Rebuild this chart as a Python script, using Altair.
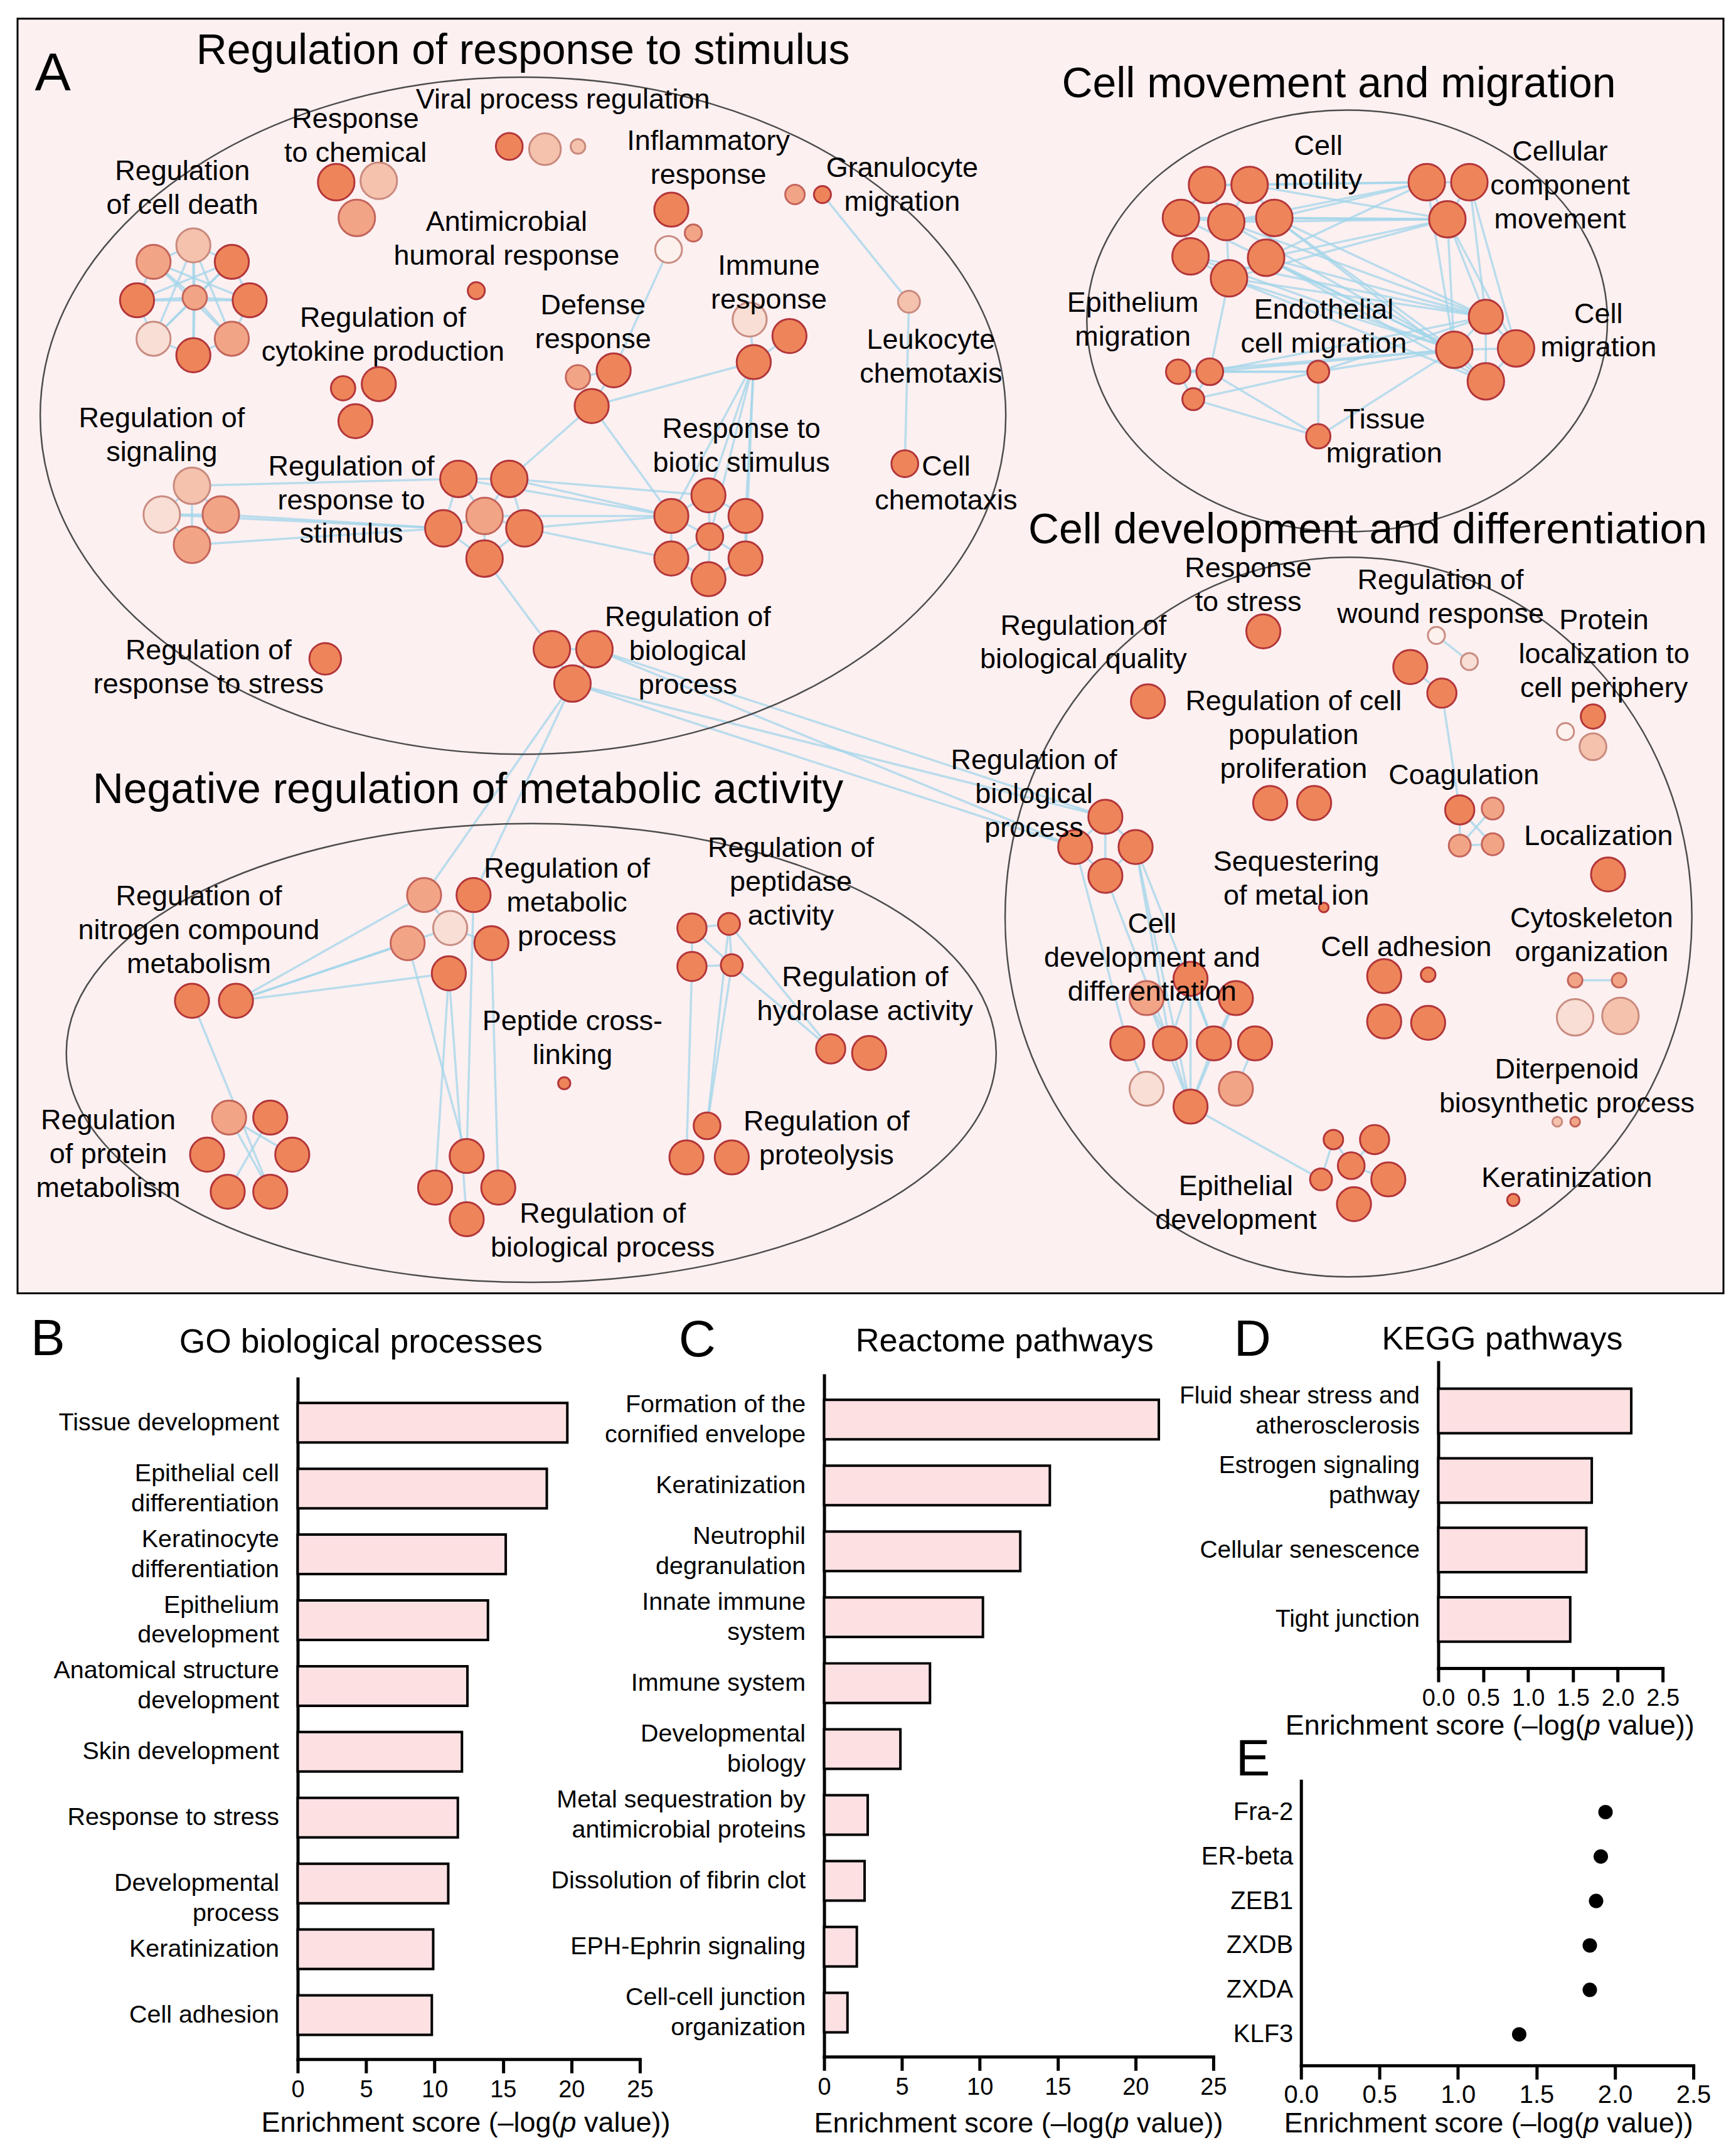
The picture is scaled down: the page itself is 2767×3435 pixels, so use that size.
import math
import pandas as pd
import altair as alt

FONT = "Liberation Sans, Arial, Helvetica, sans-serif"
TITLE_PRE, TITLE_P, TITLE_POST = "Enrichment score (\u2013log(", "p", "value))"

# ---------------- Panels B-E values ----------------
# "|" = line break of a label centred on its bar, "~" = line break of a label whose first line sits on the bar
go_terms = ["Tissue development", "Epithelial cell|differentiation", "Keratinocyte|differentiation",
            "Epithelium|development", "Anatomical structure|development", "Skin development",
            "Response to stress", "Developmental~process", "Keratinization", "Cell adhesion"]
go_scores = [19.7, 18.2, 15.2, 13.9, 12.4, 12.0, 11.7, 11.0, 9.9, 9.8]

reactome_terms = ["Formation of the|cornified envelope", "Keratinization", "Neutrophil|degranulation",
                  "Innate immune|system", "Immune system", "Developmental|biology",
                  "Metal sequestration by|antimicrobial proteins", "Dissolution of fibrin clot",
                  "EPH-Ephrin signaling", "Cell-cell junction|organization"]
reactome_scores = [21.5, 14.5, 12.6, 10.2, 6.8, 4.9, 2.8, 2.6, 2.1, 1.5]

kegg_terms = ["Fluid shear stress and|atherosclerosis", "Estrogen signaling|pathway",
              "Cellular senescence", "Tight junction"]
kegg_scores = [2.15, 1.71, 1.65, 1.47]

tf_names = ["Fra-2", "ER-beta", "ZEB1", "ZXDB", "ZXDA", "KLF3"]
tf_scores = [1.94, 1.91, 1.88, 1.84, 1.84, 1.39]

ticks_25 = [0, 5, 10, 15, 20, 25]
ticks_25b = [0.0, 0.5, 1.0, 1.5, 2.0, 2.5]

# ---------------- Panel A network (layout coordinates) ----------------
shade_fill = {"d": "#ee855a", "m": "#f2a586", "l": "#f5c2ad", "v": "#f8ded4", "w": "#fcf1ec"}
shade_stroke = {"d": "#b3363a", "m": "#c4655c", "l": "#c98a7e", "v": "#c98c82", "w": "#c98c82"}

c1_nodes = [
    ("rc1", 244, 131, 15, "d"), ("rc2", 275, 130, 15, "l"), ("rc3", 259, 157, 15, "m"),
    ("vp1", 370, 105, 11, "d"), ("vp2", 396, 107, 13, "l"), ("vp3", 420, 105, 6, "l"),
    ("gr1", 578, 140, 8, "m"), ("gr2", 598, 140, 7, "d"),
    ("in1", 488, 151, 14, "d"), ("in2", 504, 168, 7, "m"), ("in3", 486, 180, 11, "w"),
    ("am1", 346, 210, 7, "d"),
    ("cd0", 141, 215, 10, "m"), ("cd1", 111, 189, 14, "m"), ("cd2", 140, 177, 14, "l"),
    ("cd3", 168, 189, 14, "d"), ("cd4", 99, 217, 14, "d"), ("cd5", 181, 217, 14, "d"),
    ("cd6", 111, 245, 14, "v"), ("cd7", 168, 245, 14, "m"), ("cd8", 140, 257, 14, "d"),
    ("cy1", 249, 281, 10, "d"), ("cy2", 275, 278, 14, "d"), ("cy3", 258, 305, 14, "d"),
    ("df1", 420, 273, 10, "m"), ("df2", 446, 268, 14, "d"), ("df3", 430, 294, 14, "d"),
    ("im1", 545, 231, 14, "v"), ("im2", 574, 243, 14, "d"), ("im3", 548, 262, 14, "d"),
    ("sg1", 139, 352, 15, "l"), ("sg2", 117, 373, 15, "v"), ("sg3", 160, 373, 15, "m"), ("sg4", 139, 395, 15, "m"),
    ("rs0", 352, 374, 15, "m"), ("rs1", 333, 347, 15, "d"), ("rs2", 370, 347, 15, "d"),
    ("rs3", 322, 383, 15, "d"), ("rs4", 381, 383, 15, "d"), ("rs5", 352, 405, 15, "d"),
    ("bs0", 516, 389, 11, "d"), ("bs1", 515, 359, 14, "d"), ("bs2", 488, 374, 14, "d"),
    ("bs3", 542, 374, 14, "d"), ("bs4", 488, 405, 14, "d"), ("bs5", 542, 405, 14, "d"), ("bs6", 515, 420, 14, "d"),
    ("st1", 236, 478, 13, "d"),
    ("bp1", 401, 471, 15, "d"), ("bp2", 432, 471, 15, "d"), ("bp3", 416, 496, 15, "d"),
    ("lk1", 661, 218, 9, "l"), ("cc1", 658, 336, 11, "d"),
]
c2_nodes = [
    ("mo1", 878, 133, 15, "d"), ("mo2", 909, 133, 15, "d"), ("mo3", 859, 157, 15, "d"),
    ("mo4", 892, 160, 15, "d"), ("mo5", 927, 157, 15, "d"), ("mo6", 866, 185, 15, "d"),
    ("mo7", 921, 186, 15, "d"), ("mo8", 894, 201, 15, "d"),
    ("cm1", 1038, 131, 15, "d"), ("cm2", 1069, 131, 15, "d"), ("cm3", 1053, 158, 15, "d"),
    ("mg1", 1081, 229, 14, "d"), ("mg2", 1058, 253, 15, "d"), ("mg3", 1103, 252, 15, "d"), ("mg4", 1081, 276, 15, "d"),
    ("ep1", 857, 269, 10, "d"), ("ep2", 880, 269, 11, "d"), ("ep3", 868, 289, 9, "d"),
    ("en1", 959, 269, 9, "d"), ("ts1", 959, 316, 10, "d"),
]
c3_nodes = [
    ("rst", 919, 458, 14, "d"), ("bq1", 835, 509, 14, "d"),
    ("wd1", 1045, 461, 7, "w"), ("wd2", 1069, 480, 7, "v"), ("wd3", 1026, 484, 14, "d"), ("wd4", 1049, 503, 12, "d"),
    ("pl1", 1159, 520, 10, "d"), ("pl2", 1139, 531, 7, "w"), ("pl3", 1159, 542, 11, "l"),
    ("pp1", 924, 583, 14, "d"), ("pp2", 956, 583, 14, "d"),
    ("co1", 1062, 588, 12, "d"), ("co2", 1086, 587, 9, "m"), ("co3", 1062, 614, 9, "m"), ("co4", 1086, 613, 9, "m"),
    ("lo1", 1170, 635, 14, "d"), ("sq1", 963, 659, 4, "d"),
    ("ca1", 1007, 709, 14, "d"), ("ca2", 1039, 708, 6, "d"), ("ca3", 1007, 742, 14, "d"), ("ca4", 1039, 743, 14, "d"),
    ("cs1", 1146, 712, 6, "m"), ("cs2", 1178, 712, 6, "m"), ("cs3", 1146, 739, 15, "v"), ("cs4", 1179, 738, 15, "l"),
    ("dt1", 1133, 815, 4, "l"), ("dt2", 1146, 815, 4, "m"), ("kr1", 1101, 872, 5, "d"),
    ("rb1", 804, 593, 14, "d"), ("rb2", 782, 615, 14, "d"), ("rb3", 826, 615, 14, "d"), ("rb4", 804, 636, 14, "d"),
    ("dv1", 866, 711, 14, "d"), ("dv2", 834, 725, 14, "m"), ("dv3", 899, 725, 14, "d"),
    ("dv4", 820, 758, 14, "d"), ("dv5", 851, 758, 14, "d"), ("dv6", 883, 758, 14, "d"), ("dv7", 913, 758, 14, "d"),
    ("dv8", 834, 791, 14, "v"), ("dv9", 899, 791, 14, "m"), ("dv10", 866, 804, 14, "d"),
    ("ed1", 970, 828, 8, "d"), ("ed2", 1000, 828, 12, "d"), ("ed3", 983, 847, 11, "d"),
    ("ed4", 961, 857, 9, "d"), ("ed5", 1010, 857, 14, "d"), ("ed6", 985, 875, 14, "d"),
]
c4_nodes = [
    ("nc1", 139, 727, 14, "d"), ("nc2", 171, 727, 14, "d"),
    ("mp1", 308, 650, 14, "m"), ("mp2", 344, 650, 14, "d"), ("mp3", 327, 674, 14, "v"),
    ("mp4", 296, 685, 14, "m"), ("mp5", 357, 685, 14, "d"), ("mp6", 326, 707, 14, "d"),
    ("pe1", 503, 674, 12, "d"), ("pe2", 530, 671, 9, "d"), ("pe3", 503, 702, 12, "d"), ("pe4", 532, 701, 9, "d"),
    ("hy1", 604, 762, 12, "d"), ("hy2", 632, 765, 14, "d"), ("pc1", 410, 787, 5, "d"),
    ("pr1", 514, 818, 11, "d"), ("pr2", 499, 841, 14, "d"), ("pr3", 532, 841, 14, "d"),
    ("pm1", 166, 812, 14, "m"), ("pm2", 196, 812, 14, "d"), ("pm3", 150, 839, 14, "d"),
    ("pm4", 212, 839, 14, "d"), ("pm5", 165, 866, 14, "d"), ("pm6", 196, 866, 14, "d"),
    ("bb1", 339, 840, 14, "d"), ("bb2", 316, 863, 14, "d"), ("bb3", 362, 863, 14, "d"), ("bb4", 339, 886, 14, "d"),
]

edges_c1 = """cd0-cd1 cd0-cd2 cd0-cd3 cd0-cd4 cd0-cd5 cd0-cd6 cd0-cd7 cd0-cd8
cd1-cd2 cd2-cd3 cd3-cd5 cd5-cd7 cd7-cd8 cd8-cd6 cd6-cd4 cd4-cd1
cd1-cd5 cd2-cd7 cd4-cd3 cd6-cd3 cd2-cd6 cd1-cd7 cd4-cd5 cd2-cd8
sg1-sg2 sg1-sg3 sg2-sg4 sg3-sg4 sg1-sg4 sg2-sg3 sg1-rs1 sg3-rs3 sg4-rs3 sg2-rs3
rs0-rs1 rs0-rs2 rs0-rs3 rs0-rs4 rs0-rs5 rs1-rs2 rs1-rs3 rs2-rs4 rs3-rs5 rs4-rs5
rs2-bs2 rs4-bs2 rs2-bs1 rs4-bs4 rs1-bs2 rs0-bs2
bs0-bs1 bs0-bs2 bs0-bs3 bs0-bs4 bs0-bs5 bs0-bs6 bs1-bs2 bs1-bs3 bs2-bs4 bs3-bs5 bs4-bs6 bs5-bs6
im3-bs1 im3-bs2 im3-bs3 im3-bs0 im3-bs5 im1-im3 im2-im3
df3-im3 df3-bs2 rs2-df3 in3-df2 df1-df2 df2-df3
rs5-bp1 bp1-bp2 bp1-bp3 bp2-bp3 gr2-lk1 lk1-cc1"""
edges_c2 = """mo1-mo2 mo1-mo3 mo2-mo5 mo3-mo4 mo4-mo5 mo3-mo6 mo5-mo7 mo6-mo8 mo7-mo8 mo4-mo8 mo1-mo4 mo2-mo4
mo2-cm1 mo5-cm1 mo5-cm3 mo4-cm3 mo7-cm3 mo2-cm3 mo4-cm1 mo7-cm1 mo8-cm3 mo3-cm3 mo1-cm1
mo5-mg2 mo7-mg2 mo8-mg2 mo4-mg2 mo7-mg1 mo8-mg4 mo6-mg2 mo5-mg1 mo6-mg1 mo3-mg2 mo7-mg4 mo5-mg4 mo4-mg1 mo8-mg1
cm1-cm2 cm1-cm3 cm2-cm3 cm3-mg1 cm3-mg2 cm2-mg1 cm3-mg3 cm1-mg2 cm2-mg3
mg1-mg2 mg1-mg3 mg2-mg4 mg3-mg4 mg1-mg4 mg2-mg3
ep1-ep2 ep1-ep3 ep2-ep3 ep2-en1 ep1-en1 ep2-ts1 ep3-ts1 ep2-mg2 en1-ts1 en1-mg2 ts1-mg2 mo8-ep2
ep2-mg1 ep1-mg2 en1-mg1 ep3-en1"""
edges_c3 = """wd1-wd2 wd3-wd4 wd4-co1 co1-co3 co1-co4 co2-co3 co3-co4 cs1-cs2
rb1-rb2 rb1-rb3 rb2-rb4 rb3-rb4 rb1-rb4 rb4-dv5 rb3-dv5 rb3-dv6 rb3-dv10 rb2-dv4
dv1-dv10 dv5-dv10 dv6-dv10 dv2-dv10 dv3-dv10 dv4-dv8 dv7-dv9 dv1-dv5 dv1-dv6 dv2-dv5 dv3-dv6
dv10-ed4 ed1-ed4 ed1-ed3 ed3-ed5 ed2-ed3"""
edges_c4 = """nc2-mp4 nc2-mp1 nc2-mp6 nc2-mp3 nc1-pm6 pm1-pm6 pm1-pm4 pm2-pm5
mp4-bb1 mp6-bb2 mp6-bb4 mp5-bb3 mp2-bb1 mp1-mp3 mp3-mp5
pe1-pe3 pe2-pe4 pe1-pe2 pe3-pe4 pe1-pe4 pe2-hy1 pe4-hy1 pe3-pr2 pe4-pr1 pe2-pr1"""
edges_cross = "bp3-mp2 bp3-mp1 bp2-rb2 bp3-rb2 bp2-rb1 bp3-rb1"

ellipse_cx = [380, 980, 981, 386]
ellipse_cy = [301, 232, 666, 765]
ellipse_w = [703, 379, 500, 677]
ellipse_h = [493, 307, 524, 334]

cluster_titles = [
    ("Regulation of response to stimulus", 380, 45),
    ("Cell movement and migration", 974, 69),
    ("Cell development and differentiation", 995, 394),
    ("Negative regulation of metabolic activity", 340, 583),
]

# (label, centre x, centre y of the FIRST line)
node_labels = [
    ("Response\nto chemical", 258, 85), ("Viral process regulation", 409, 71),
    ("Inflammatory\nresponse", 515, 101), ("Granulocyte\nmigration", 656, 121),
    ("Regulation\nof cell death", 132, 123), ("Antimicrobial\nhumoral response", 368, 160),
    ("Immune\nresponse", 559, 192), ("Defense\nresponse", 431, 221),
    ("Regulation of\ncytokine production", 278, 230), ("Leukocyte\nchemotaxis", 677, 246),
    ("Regulation of\nsignaling", 117, 303), ("Response to\nbiotic stimulus", 539, 311),
    ("Regulation of\nresponse to\nstimulus", 255, 338), ("Cell\nchemotaxis", 688, 338),
    ("Regulation of\nbiological\nprocess", 500, 448), ("Regulation of\nresponse to stress", 151, 472),
    ("Cell\nmotility", 959, 105), ("Cellular\ncomponent\nmovement", 1135, 109),
    ("Epithelium\nmigration", 824, 219), ("Endothelial\ncell migration", 963, 224),
    ("Cell\nmigration", 1163, 227), ("Tissue\nmigration", 1007, 304),
    ("Response\nto stress", 908, 412), ("Regulation of\nwound response", 1048, 421),
    ("Protein\nlocalization to\ncell periphery", 1167, 450), ("Regulation of\nbiological quality", 788, 454),
    ("Regulation of cell\npopulation\nproliferation", 941, 509), ("Coagulation", 1065, 563),
    ("Regulation of\nbiological\nprocess", 752, 552), ("Localization", 1163, 607),
    ("Sequestering\nof metal ion", 943, 626), ("Cytoskeleton\norganization", 1158, 667),
    ("Cell adhesion", 1023, 688), ("Cell\ndevelopment and\ndifferentiation", 838, 671),
    ("Diterpenoid\nbiosynthetic process", 1140, 777), ("Keratinization", 1140, 856),
    ("Epithelial\ndevelopment", 899, 862),
    ("Regulation of\nnitrogen compound\nmetabolism", 144, 651), ("Regulation of\nmetabolic\nprocess", 412, 631),
    ("Regulation of\npeptidase\nactivity", 575, 616), ("Regulation of\nhydrolase activity", 629, 710),
    ("Peptide cross-\nlinking", 416, 742), ("Regulation of\nproteolysis", 601, 815),
    ("Regulation\nof protein\nmetabolism", 78, 814), ("Regulation of\nbiological process", 438, 882),
]

panel_letter_A = [("A", 24.6, 64)]

# ---------------- build Panel A ----------------
A_W, A_H = 2722, 2034
K = A_W / 1242.0  # pixels per layout unit
xs = alt.Scale(domain=[12, 1254], nice=False, zero=False)
ys = alt.Scale(domain=[12, 940], nice=False, zero=False, reverse=True)

nodes = c1_nodes + c2_nodes + c3_nodes + c4_nodes
node_df = pd.DataFrame(nodes, columns=["id", "x", "y", "r", "shade"])
node_df["size"] = math.pi * (node_df["r"] * K) ** 2
node_df["fill"] = node_df["shade"].map(shade_fill)
node_df["stroke"] = node_df["shade"].map(shade_stroke)
pos = {n[0]: (n[1], n[2]) for n in nodes}
pairs = [e.split("-") for e in " ".join([edges_c1, edges_c2, edges_c3, edges_c4, edges_cross]).split()]
edge_df = pd.DataFrame([{"x1": pos[a][0], "y1": pos[a][1], "x2": pos[b][0], "y2": pos[b][1]} for a, b in pairs])

CC = 0.5523


def ellipse_path(h):
    return (f"M -1 0 C -1 {-CC*h:.4f} {-CC:.4f} {-h:.4f} 0 {-h:.4f} "
            f"C {CC:.4f} {-h:.4f} 1 {-CC*h:.4f} 1 0 "
            f"C 1 {CC*h:.4f} {CC:.4f} {h:.4f} 0 {h:.4f} "
            f"C {-CC:.4f} {h:.4f} -1 {CC*h:.4f} -1 0 Z")


ell_df = pd.DataFrame({"x": ellipse_cx, "y": ellipse_cy,
                       "path": [ellipse_path(h / w) for w, h in zip(ellipse_w, ellipse_h)],
                       "size": [(w * K) ** 2 for w in ellipse_w]})
ct_df = pd.DataFrame(cluster_titles, columns=["t", "x", "y"])
nl_df = pd.DataFrame(node_labels, columns=["t", "x", "y"])
la_df = pd.DataFrame(panel_letter_A, columns=["t", "x", "y"])


def XY():
    return dict(x=alt.X("x:Q", scale=xs, axis=None), y=alt.Y("y:Q", scale=ys, axis=None))


edges_layer = alt.Chart(edge_df).mark_rule(color="#a2d5ea", strokeWidth=3.5, opacity=0.75).encode(
    x=alt.X("x1:Q", scale=xs, axis=None), y=alt.Y("y1:Q", scale=ys, axis=None), x2="x2:Q", y2="y2:Q")
ell_layer = alt.Chart(ell_df).mark_point(filled=False, opacity=1, stroke="#4d4d4d", strokeWidth=2.5).encode(
    shape=alt.Shape("path:N", scale=None), size=alt.Size("size:Q", scale=None), **XY())
node_layer = alt.Chart(node_df).mark_circle(opacity=1, strokeWidth=3).encode(
    size=alt.Size("size:Q", scale=None), color=alt.Color("fill:N", scale=None),
    stroke=alt.Stroke("stroke:N", scale=None), **XY())
nl_layer = alt.Chart(nl_df).mark_text(font=FONT, fontSize=45, lineBreak="\n", lineHeight=54,
                                      align="center", baseline="middle", color="black").encode(text="t:N", **XY())
ct_layer = alt.Chart(ct_df).mark_text(font=FONT, fontSize=68, align="center", baseline="alphabetic",
                                      color="black").encode(text="t:N", **XY())
la_layer = alt.Chart(la_df).mark_text(font=FONT, fontSize=86, align="left", baseline="alphabetic",
                                      color="black").encode(text="t:N", **XY())

panelA = alt.layer(edges_layer, ell_layer, node_layer, nl_layer, ct_layer, la_layer).properties(
    width=A_W, height=A_H, view=alt.ViewBackground(fill="#fdf0f1", stroke="black", strokeWidth=3))


# ---------------- Panels B-E ----------------
def text_layer(txt, x, y, size, align="left", style="normal"):
    return alt.Chart(pd.DataFrame({"t": [txt]})).mark_text(
        font=FONT, fontSize=size, align=align, baseline="alphabetic", color="black", fontStyle=style).encode(
        text="t:N", x=alt.value(x), y=alt.value(y))


def axis_title(xp, yb, size=45):
    # "Enrichment score (–log(" + italic "p" + " value))", placed around the italic p
    half_p = 0.278 * size
    space = 0.278 * size
    return [text_layer(TITLE_PRE, xp - half_p, yb, size, "right"),
            text_layer(TITLE_P, xp, yb, size, "center", "italic"),
            text_layer(TITLE_POST, xp + half_p + space, yb, size, "left")]


def x_axis(values, fmt, label_size=38, pad=8):
    return alt.Axis(values=values, format=fmt, title=None, tickSize=22, tickWidth=5, domainWidth=5,
                    labelFontSize=label_size, labelPadding=pad, grid=False, labelFlush=False, domainCap="square")


def y_axis(label_size=39.5, pad=30, offset=0, multiline=True, line_h=48):
    kw = dict(title=None, ticks=False, tickSize=0, domainWidth=5, labelFontSize=label_size,
              labelPadding=pad, labelLineHeight=line_h, labelLimit=1000, labelOverlap=False,
              domainCap="square", grid=False)
    if multiline:
        kw["labelExpr"] = "split(replace(datum.label, '~', '|'), '|')"
        kw["labelOffset"] = {"condition": {"test": "indexof(datum.label, '|') >= 0", "value": -line_h / 2},
                             "value": 0}
    if offset:
        kw["offset"] = offset
    return alt.Axis(**kw)


BAR_FILL = "#fde0e2"


def bar_chart(terms, scores, xdomain, xticks, fmt, yrange, pin, pout, xrange=None, yoff=0, label_size=39.5):
    df = pd.DataFrame({"term": terms, "score": scores})
    xsc = alt.Scale(domain=xdomain, nice=False, zero=True) if xrange is None else \
        alt.Scale(domain=xdomain, nice=False, zero=True, range=xrange)
    return alt.Chart(df).mark_bar(fill=BAR_FILL, stroke="black", strokeWidth=4).encode(
        x=alt.X("score:Q", scale=xsc, axis=x_axis(xticks, fmt)),
        y=alt.Y("term:N", sort=terms, scale=alt.Scale(range=yrange, paddingInner=pin, paddingOuter=pout),
                axis=y_axis(label_size=label_size, offset=yoff)))


panelB = alt.layer(
    bar_chart(go_terms, go_scores, [0, 25], ticks_25, "d", [26, 1112], 0.4, 0.37),
    text_layer("B", -426, -12, 82),
    text_layer("GO biological processes", 101, -16, 53.5, "center"),
    *axis_title(432, 1228),
).properties(width=546, height=1112)

panelC = alt.layer(
    bar_chart(reactome_terms, reactome_scores, [0, 25], ticks_25, "d", [21, 1108], 0.4, 0.37),
    text_layer("C", -232, -10, 82),
    text_layer("Reactome pathways", 288, -18, 52.5, "center"),
    *axis_title(474, 1229),
).properties(width=621, height=1108)

panelD = alt.layer(
    bar_chart(kegg_terms, kegg_scores, [0, 2.5], ticks_25b, ".1f", [0, 488], 0.36, 0.38,
              xrange=[219, 577], yoff=-219, label_size=39),
    text_layer("D", -107, -11, 82),
    text_layer("KEGG pathways", 321, -21, 52, "center"),
    *axis_title(465, 594),
).properties(width=577, height=488)

e_df = pd.DataFrame({"tf": tf_names, "score": tf_scores})
e_points = alt.Chart(e_df).mark_circle(color="black", size=530, opacity=1).encode(
    x=alt.X("score:Q", scale=alt.Scale(domain=[0, 2.5], nice=False),
            axis=x_axis(ticks_25b, ".1f", label_size=40, pad=5)),
    y=alt.Y("tf:N", sort=tf_names, scale=alt.Scale(type="point", padding=0.7),
            axis=y_axis(label_size=40, pad=13, multiline=False)))
panelE = alt.layer(e_points, text_layer("E", -104, -9, 82), *axis_title(463, 561)).properties(
    width=626, height=454)


def spacer(w):
    return alt.Chart(pd.DataFrame({"v": [0]})).mark_point(opacity=0).encode(
        x=alt.X("v:Q", axis=None), y=alt.Y("v:Q", axis=None)).properties(width=w, height=10)


DE = alt.vconcat(panelD, panelE, spacing=180, bounds="flush")
row2 = alt.hconcat(spacer(447), panelB, spacer(294), panelC, spacer(140), DE, spacing=0, bounds="flush")

chart = alt.vconcat(panelA, row2, spacing=110, bounds="flush").properties(
    padding={"left": 18, "top": 18, "right": 10, "bottom": 10}
).configure_view(stroke=None).configure_axis(
    labelFont=FONT, titleFont=FONT, labelColor="black", titleColor="black",
    domainColor="black", tickColor="black", titleFontWeight="normal"
)

chart.save("out.html", embed_options={"renderer": "svg", "actions": False})
